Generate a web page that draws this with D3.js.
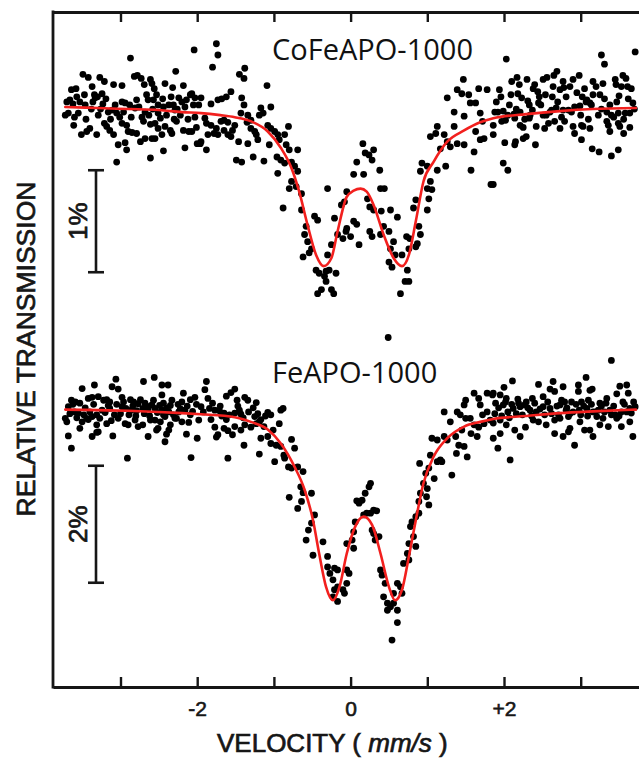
<!DOCTYPE html>
<html><head><meta charset="utf-8">
<script src="https://cdn.jsdelivr.net/npm/d3@7"></script>
<style>body{margin:0;background:#fff} svg{display:block;background:#fff}</style>
</head><body><svg id="c" width="639" height="760"></svg>
<script>
// ---------- data ----------
const velocityTicks = [-3, -2, -1, 0, 1, 2, 3];
const velocityTickLabels = { "-2": "-2", "0": "0", "2": "+2" };
const sampleNames = ["CoFeAPO-1000", "FeAPO-1000"];
const scaleBarLabels = ["1%", "2%"];
const scaleBarSizes = [1, 2]; // percent

// CoFeAPO-1000: [velocity mm/s, transmission change %]
const coFePoints = [
[-2.04,0.56],[-2.87,0.48],[-2.28,0.35],[-3.49,0.32],[-3.42,0.29],[-3.27,0.29],[-3.21,0.25],[-2.82,0.30],[-2.78,0.31],[-2.73,0.28],[-2.69,0.22],[-2.61,0.27],[-2.59,0.23],[-2.56,0.18],[-3.09,0.22],[-2.98,0.21],[-2.42,0.23],[-2.32,0.19],[-2.18,0.21],[-2.09,0.12],[-2.07,0.13],[-3.64,0.17],[-3.58,0.18],[-3.37,0.20],[-3.34,0.12],[-3.24,0.13],[-3.57,0.10],[-3.53,0.05],[-3.46,0.02],[-3.70,0.05],[-3.66,0.07],[-3.33,0.09],[-3.30,0.10],[-2.98,0.05],[-2.94,0.04],[-2.79,0.07],[-2.64,0.07],[-2.57,0.07],[-2.51,0.02],[-2.44,0.00],[-2.37,0.02],[-2.31,0.02],[-2.24,0.09],[-2.20,0.05],[-2.14,0.07],[-2.03,0.09],[-1.98,0.02],[-3.72,-0.08],[-3.68,-0.06],[-3.55,-0.06],[-3.29,-0.08],[-3.16,-0.05],[-3.11,-0.03],[-3.05,-0.06],[-2.81,-0.01],[-2.68,-0.05],[-2.51,-0.06],[-2.29,-0.03],[-2.22,-0.08],[-2.03,-0.10],[-3.61,-0.18],[-3.51,-0.27],[-3.44,-0.24],[-3.40,-0.21],[-3.31,-0.27],[-3.21,-0.16],[-3.18,-0.19],[-3.14,-0.23],[-3.09,-0.27],[-2.98,-0.16],[-2.92,-0.18],[-2.90,-0.24],[-2.85,-0.25],[-2.79,-0.26],[-2.70,-0.14],[-2.61,-0.17],[-2.55,-0.16],[-2.51,-0.21],[-2.46,-0.27],[-2.42,-0.19],[-2.35,-0.23],[-2.33,-0.26],[-2.27,-0.14],[-2.18,-0.23],[-2.11,-0.24],[-2.07,-0.24],[-3.03,-0.37],[-2.94,-0.35],[-2.92,-0.42],[-2.74,-0.34],[-2.68,-0.31],[-2.59,-0.31],[-2.55,-0.31],[-2.44,-0.43],[-2.16,-0.40],[-2.00,-0.36],[-1.96,-0.36],[-3.05,-0.54],[-2.61,-0.50],
[-3.62,0.03],[-3.60,-0.10],[-3.47,0.12],[-3.45,-0.12],[-3.38,-0.02],[-3.36,0.05],[-3.26,-0.02],[-3.23,0.03],[-3.19,0.08],[-3.13,-0.12],[-3.07,0.02],[-3.01,-0.10],[-2.96,-0.05],[-2.88,0.02],[-2.86,-0.10],[-2.76,0.00],[-2.72,-0.10],[-2.66,0.12],[-2.63,-0.08],[-2.58,-0.02],[-2.53,0.12],[-2.48,-0.11],[-2.45,0.08],[-2.40,-0.08],[-2.34,0.10],[-2.30,-0.12],[-2.26,-0.02],[-2.16,0.00],[-2.12,-0.12],[-2.05,0.02],[-2.01,-0.20],
[-1.75,0.62],[-1.73,0.51],[-1.80,0.39],[-1.38,0.38],[-1.45,0.32],[-1.39,0.28],[-1.09,0.21],[-1.56,0.15],[-1.62,0.10],[-1.68,0.08],[-1.73,0.07],[-1.82,0.03],[-1.95,0.09],[-1.42,0.09],[-1.39,0.02],[-1.04,0.00],[-1.17,-0.01],[-1.14,-0.06],[-1.19,-0.08],[-1.43,-0.06],[-1.34,-0.08],[-1.30,-0.13],[-1.35,-0.15],[-1.90,-0.11],[-1.88,-0.16],[-1.82,-0.18],[-1.75,-0.21],[-1.69,-0.14],[-1.65,-0.13],[-1.60,-0.15],[-1.51,-0.18],[-1.54,-0.23],[-1.86,-0.27],[-1.78,-0.26],[-1.73,-0.27],[-1.65,-0.23],[-1.60,-0.27],[-1.56,-0.29],[-1.30,-0.21],[-1.25,-0.24],[-1.23,-0.27],[-1.08,-0.18],[-1.04,-0.21],[-0.99,-0.24],[-0.95,-0.27],[-0.86,-0.27],[-0.81,-0.19],[-1.95,-0.34],[-1.88,-0.42],[-1.46,-0.34],[-1.34,-0.36],[-1.21,-0.32],[-1.06,-0.37],[-0.93,-0.32],[-0.84,-0.37],[-0.80,-0.42],[-0.69,-0.42],[-1.49,-0.52],[-1.42,-0.54],[-1.27,-0.49],[-1.13,-0.53],[-0.96,-0.49],[-0.91,-0.52],[-0.86,-0.55],[-0.77,-0.54],[-0.73,-0.58],[-0.69,-0.63],[-0.95,-0.65],[-0.77,-0.73],[-0.80,-0.80],[-0.71,-0.78],[-0.64,-0.85],[-0.88,-0.99],[-0.64,-1.01],[-0.47,-1.07],[-0.43,-1.11],[-0.58,-1.17],[-0.60,-1.25],[-0.56,-1.32],[-0.51,-1.39],[-0.54,-1.43],[-0.62,-1.47],[-0.30,-0.80],[-0.21,-1.09],[-0.12,-0.96],[-0.08,-0.93],[-0.45,-1.60],[-0.41,-1.63],[-0.32,-1.61],[-0.28,-1.60],[-0.19,-1.63],[-0.34,-1.66],[-0.32,-1.71],[-0.43,-1.83],[-0.38,-1.79],[-0.25,-1.79],[-0.22,-1.83],[-0.30,-1.45],[-0.25,-1.35],[-0.17,-1.25],[-0.10,-1.29],[-0.06,-1.22],
[1.47,0.27],[1.39,0.17],[1.45,0.13],[1.26,0.09],[1.54,0.12],[1.56,0.04],[1.67,0.18],[1.78,0.17],[1.63,0.04],[1.69,-0.06],[1.35,-0.05],[1.48,-0.09],[1.13,-0.19],[1.35,-0.19],[1.04,-0.29],[1.11,-0.26],[1.22,-0.27],[1.26,-0.34],[1.17,-0.41],[1.30,-0.39],[1.39,-0.36],[1.48,-0.37],[1.63,-0.24],[1.72,-0.14],[1.61,-0.44],[1.69,-0.32],[1.74,-0.31],[0.16,-0.36],[0.19,-0.45],[0.24,-0.47],[0.30,-0.42],[0.28,-0.52],[0.08,-0.54],[0.04,-0.66],[0.17,-0.66],[0.38,-0.62],[1.24,-0.58],[1.13,-0.62],[1.04,-0.73],[0.93,-0.55],[1.00,-0.58],[0.91,-0.63],[1.57,-0.62],[1.83,-0.76],[0.39,-0.80],[0.44,-0.80],[-0.05,-0.83],[0.22,-0.90],[0.25,-0.98],[0.30,-1.01],[0.40,-1.02],[0.52,-1.01],[0.61,-1.08],[0.85,-0.91],[0.82,-0.99],[1.00,-0.80],[1.06,-0.81],[1.02,-0.90],[1.00,-1.01],[0.04,-1.12],[-0.05,-1.19],[0.08,-1.15],[0.25,-1.22],[0.28,-1.27],[0.39,-1.25],[0.50,-1.22],[0.43,-1.17],[0.00,-1.27],[0.11,-1.35],[0.56,-1.32],[0.52,-1.39],[0.58,-1.45],[0.67,-1.45],[0.73,-1.27],[0.77,-1.29],[0.89,-1.17],[0.91,-1.25],[0.87,-1.34],[0.85,-1.37],[0.76,-1.39],[0.50,-1.52],[0.54,-1.57],[0.74,-1.60],[0.71,-1.71],[0.76,-1.71],[0.65,-1.83],[0.49,-2.26],
[2.03,0.47],[3.27,0.51],[3.31,0.42],[3.71,0.54],[1.94,0.17],[2.10,0.25],[2.17,0.29],[2.30,0.27],[2.51,0.27],[2.56,0.29],[2.65,0.31],[2.69,0.35],[2.77,0.25],[2.90,0.27],[2.98,0.31],[3.16,0.25],[3.29,0.23],[3.45,0.27],[3.46,0.22],[3.55,0.31],[3.59,0.28],[3.61,0.20],[3.66,0.18],[2.18,0.13],[2.23,0.09],[2.38,0.18],[2.44,0.15],[2.46,0.10],[2.63,0.10],[2.73,0.17],[2.78,0.19],[2.86,0.20],[3.02,0.10],[3.08,0.07],[3.16,0.12],[3.25,0.12],[3.50,0.11],[3.68,0.04],[1.88,-0.05],[1.92,-0.05],[1.99,-0.04],[2.07,0.02],[2.13,-0.07],[2.21,-0.05],[2.33,0.02],[2.34,-0.08],[2.45,0.04],[2.51,-0.08],[2.55,-0.08],[2.62,-0.03],[2.68,-0.01],[2.77,-0.03],[2.84,-0.03],[2.92,0.00],[2.99,0.01],[3.07,0.05],[3.12,0.04],[3.23,-0.08],[3.34,-0.05],[3.40,-0.08],[3.49,-0.06],[3.58,-0.06],[3.64,-0.06],[1.86,-0.18],[1.97,-0.14],[2.02,-0.13],[2.14,-0.11],[2.21,-0.18],[2.25,-0.20],[2.33,-0.11],[2.42,-0.19],[2.53,-0.21],[2.58,-0.16],[2.66,-0.14],[2.73,-0.21],[2.79,-0.14],[2.90,-0.19],[2.92,-0.26],[3.01,-0.18],[3.03,-0.19],[3.12,-0.21],[3.34,-0.14],[3.36,-0.18],[3.49,-0.16],[3.51,-0.19],[3.64,-0.20],[1.86,-0.27],[2.01,-0.35],[2.14,-0.37],[2.15,-0.34],[2.25,-0.31],[2.29,-0.29],[2.41,-0.37],[3.01,-0.32],[3.38,-0.24],[3.56,-0.26],[3.15,-0.41],[3.24,-0.44],[3.40,-0.48],[3.49,-0.42],[1.99,-0.55],[2.05,-0.62],[1.86,-0.76],
[1.90,0.05],[1.96,0.10],[2.05,-0.08],[2.09,0.12],[2.16,-0.02],[2.20,0.22],[2.27,-0.12],[2.31,0.06],[2.37,-0.03],[2.40,0.22],[2.48,0.02],[2.54,0.12],[2.60,-0.05],[2.64,0.20],[2.70,0.05],[2.75,-0.10],[2.81,0.10],[2.88,-0.05],[2.95,0.14],[3.00,-0.08],[3.05,0.18],[3.10,-0.12],[3.14,0.02],[3.20,0.20],[3.27,-0.02],[3.31,0.08],[3.38,0.02],[3.43,-0.10],[3.47,0.05],[3.53,0.20],[3.56,-0.12],[3.62,0.08],[3.70,-0.02]
];
const coFeFit = [
[-3.72,0.00],[-3.3,-0.01],[-2.9,-0.02],[-2.5,-0.03],[-2.2,-0.05],[-1.95,-0.06],[-1.7,-0.08],[-1.51,-0.10],[-1.30,-0.14],[-1.08,-0.24],[-0.91,-0.40],[-0.77,-0.60],[-0.67,-0.83],[-0.56,-1.16],[-0.45,-1.45],[-0.35,-1.56],[-0.25,-1.48],[-0.17,-1.22],[-0.05,-0.88],[0.04,-0.82],[0.13,-0.80],[0.21,-0.83],[0.30,-0.96],[0.43,-1.25],[0.56,-1.48],[0.67,-1.56],[0.76,-1.45],[0.85,-1.12],[0.95,-0.73],[1.08,-0.54],[1.26,-0.34],[1.48,-0.23],[1.69,-0.15],[1.86,-0.11],[2.29,-0.07],[2.73,-0.04],[3.16,-0.02],[3.72,-0.01]
];

// FeAPO-1000
const fePoints = [
[-3.06,0.51],[-2.70,0.47],[-2.56,0.54],[-3.50,0.35],[-3.34,0.41],[-3.11,0.38],[-3.03,0.34],[-2.46,0.41],[-2.38,0.41],[-2.18,0.27],[-3.64,0.15],[-3.59,0.12],[-3.53,0.10],[-3.42,0.18],[-3.37,0.20],[-3.29,0.21],[-3.22,0.15],[-3.18,0.16],[-3.14,0.12],[-2.98,0.20],[-2.87,0.16],[-2.83,0.12],[-2.77,0.09],[-2.68,0.10],[-2.59,0.07],[-2.46,0.24],[-2.44,0.10],[-2.33,0.15],[-2.20,0.12],[-2.09,0.16],[-2.03,0.20],[-3.68,0.04],[-3.60,-0.05],[-3.55,-0.07],[-3.48,-0.10],[-3.44,-0.16],[-3.37,-0.13],[-3.31,-0.10],[-3.24,-0.02],[-3.14,0.01],[-3.08,-0.10],[-2.98,0.04],[-2.93,0.01],[-2.86,-0.02],[-2.79,-0.03],[-2.71,0.01],[-2.64,0.01],[-2.55,0.01],[-2.46,-0.02],[-2.37,-0.05],[-2.31,-0.10],[-2.24,-0.05],[-2.16,-0.02],[-2.09,-0.10],[-3.72,-0.16],[-3.70,-0.22],[-3.50,-0.22],[-3.42,-0.18],[-3.31,-0.27],[-3.18,-0.25],[-3.03,-0.16],[-2.94,-0.25],[-2.90,-0.27],[-2.81,-0.19],[-2.77,-0.30],[-2.71,-0.27],[-2.61,-0.19],[-2.55,-0.19],[-2.48,-0.22],[-2.42,-0.13],[-2.35,-0.27],[-2.27,-0.16],[-2.20,-0.22],[-2.11,-0.23],[-1.98,-0.19],[-3.68,-0.46],[-3.53,-0.33],[-3.37,-0.47],[-3.31,-0.40],[-3.29,-0.39],[-3.10,-0.46],[-2.64,-0.47],[-2.53,-0.36],[-2.51,-0.33],[-2.40,-0.43],[-2.37,-0.36],[-2.14,-0.43],[-2.00,-0.50],[-3.64,-0.67],[-2.42,-0.56],[-2.91,-0.84],[-2.08,-0.83],
[-3.66,-0.08],[-3.62,0.08],[-3.57,-0.15],[-3.46,0.02],[-3.40,-0.05],[-3.35,0.08],[-3.27,-0.16],[-3.20,-0.06],[-3.16,0.06],[-3.12,-0.20],[-3.05,0.08],[-3.00,-0.08],[-2.96,0.12],[-2.89,-0.10],[-2.84,0.05],[-2.80,-0.12],[-2.74,0.16],[-2.69,-0.08],[-2.66,0.05],[-2.62,-0.12],[-2.57,0.15],[-2.52,-0.06],[-2.49,0.06],[-2.44,-0.10],[-2.40,0.02],[-2.35,0.06],[-2.29,-0.16],[-2.25,0.08],[-2.22,0.00],[-2.13,0.05],[-2.06,-0.04],[-2.01,0.08],
[-1.88,0.47],[-1.90,0.33],[-1.86,0.18],[-1.51,0.34],[-1.56,0.28],[-1.62,0.22],[-1.38,0.20],[-1.34,0.15],[-1.23,0.11],[-1.48,0.15],[-1.95,0.04],[-1.84,0.01],[-1.77,-0.02],[-1.71,-0.03],[-1.68,-0.12],[-1.65,-0.07],[-1.58,-0.10],[-1.51,-0.07],[-1.45,-0.02],[-1.43,-0.09],[-1.25,-0.13],[-1.17,-0.18],[-1.08,-0.06],[-1.04,-0.10],[-0.91,-0.02],[-0.88,0.01],[-1.82,-0.18],[-1.77,-0.31],[-1.73,-0.44],[-1.75,-0.48],[-1.65,-0.33],[-1.60,-0.37],[-1.51,-0.30],[-1.54,-0.44],[-1.43,-0.36],[-1.38,-0.27],[-1.30,-0.31],[-1.23,-0.25],[-1.19,-0.22],[-0.93,-0.25],[-1.01,-0.36],[-1.17,-0.50],[-1.08,-0.47],[-1.04,-0.59],[-0.97,-0.62],[-0.91,-0.64],[-0.77,-0.52],[-0.73,-0.67],[-1.19,-0.77],[-1.39,-0.62],[-1.60,-0.84],[-0.99,-0.90],[-0.87,-0.79],[-0.86,-0.84],[-0.81,-0.99],[-0.77,-1.01],[-0.69,-0.99],[-0.62,-1.07],[-0.65,-1.33],[-0.62,-1.43],[-0.51,-1.44],[-0.80,-1.51],[-0.69,-1.70],[-0.64,-1.58],[-0.47,-1.81],[-0.51,-1.95],[-0.55,-2.07],[-0.58,-2.24],[-0.49,-2.50],[-0.36,-2.27],[-0.30,-2.52],[-0.30,-2.70],[-0.21,-2.72],[-0.17,-2.75],[-0.27,-2.81],[-0.23,-2.92],[-0.17,-3.04],[-0.21,-3.09],[-0.23,-3.21],[-0.17,-3.29],[-0.10,-3.09],[-0.08,-3.15],
[-1.92,-0.05],[-1.80,0.10],[-1.70,0.05],[-1.62,-0.18],[-1.47,0.05],[-1.40,-0.15],[-1.33,-0.05],[-1.27,0.02],[-1.21,-0.08],[-1.13,-0.30],[-1.11,-0.12],
[1.61,0.27],[1.50,0.15],[1.48,0.07],[1.67,0.18],[1.69,0.07],[1.78,0.27],[1.85,0.24],[1.78,-0.05],[1.72,-0.10],[1.22,-0.05],[1.30,-0.22],[1.39,-0.05],[1.43,-0.10],[1.50,-0.16],[1.56,-0.16],[1.61,-0.27],[1.67,-0.31],[1.74,-0.25],[1.82,-0.19],[1.57,-0.42],[1.65,-0.47],[1.45,-0.36],[1.06,-0.50],[1.13,-0.53],[1.22,-0.47],[1.26,-0.53],[1.37,-0.47],[1.41,-0.62],[1.48,-0.64],[1.38,-0.76],[1.52,-0.82],[1.17,-0.87],[1.04,-0.79],[1.13,-0.90],[1.19,-0.90],[0.90,-0.93],[0.98,-1.10],[1.02,-1.01],[1.09,-1.19],[1.32,-1.13],[0.95,-1.27],[1.00,-1.36],[0.91,-1.44],[0.99,-1.50],[1.02,-1.64],[0.89,-1.58],[0.26,-1.27],[0.24,-1.33],[0.19,-1.44],[0.15,-1.56],[0.11,-1.61],[0.08,-1.57],[0.30,-1.73],[0.34,-1.74],[0.26,-1.78],[0.21,-1.78],[0.17,-1.81],[0.06,-1.93],[0.04,-2.10],[0.02,-2.24],[-0.05,-2.30],[0.04,-2.38],[0.28,-2.07],[0.30,-2.13],[0.32,-2.24],[0.37,-2.18],[0.89,-1.78],[0.85,-1.84],[0.80,-1.93],[0.78,-2.01],[0.82,-2.18],[0.85,-2.35],[0.76,-2.30],[0.74,-2.47],[0.76,-2.58],[0.69,-2.64],[-0.05,-2.75],[-0.02,-2.81],[-0.05,-2.98],[0.39,-2.75],[0.41,-2.84],[0.45,-2.98],[0.61,-2.98],[0.65,-3.04],[0.67,-3.15],[0.56,-3.15],[0.43,-3.21],[0.48,-3.32],[0.52,-3.38],[0.48,-3.44],[0.56,-3.32],[0.61,-3.44],[0.61,-3.65],[0.54,-3.95],
[3.40,0.83],[2.11,0.48],[3.07,0.54],[2.00,0.37],[2.45,0.42],[2.64,0.47],[2.97,0.41],[3.15,0.34],[3.51,0.39],[3.60,0.41],[1.86,0.27],[1.95,0.24],[2.03,0.18],[2.18,0.17],[2.29,0.12],[2.37,0.18],[2.51,0.21],[2.60,0.34],[2.66,0.30],[2.77,0.38],[2.79,0.12],[2.88,0.12],[2.97,0.30],[3.01,0.12],[3.10,0.15],[3.12,0.32],[3.25,0.10],[3.34,0.18],[3.47,0.26],[3.55,0.12],[3.62,0.27],[1.89,0.10],[1.99,0.07],[2.05,-0.05],[2.12,0.01],[2.21,0.04],[2.27,0.07],[2.34,-0.02],[2.42,-0.05],[2.51,0.04],[2.60,0.01],[2.73,0.07],[2.81,-0.02],[2.90,-0.05],[2.98,-0.02],[3.08,0.01],[3.16,-0.05],[3.23,-0.02],[3.31,-0.05],[3.38,-0.02],[3.45,-0.10],[3.53,-0.05],[3.64,0.01],[3.71,0.04],[1.86,-0.24],[1.95,-0.19],[2.03,-0.27],[2.14,-0.36],[2.21,-0.47],[2.28,-0.31],[2.38,-0.19],[2.45,-0.22],[2.55,-0.27],[2.66,-0.19],[2.73,-0.16],[2.84,-0.13],[2.86,-0.33],[2.99,-0.22],[3.05,-0.36],[3.12,-0.36],[3.21,-0.13],[3.25,-0.27],[3.36,-0.30],[3.47,-0.16],[3.53,-0.30],[3.64,-0.22],[3.66,-0.07],[1.86,-0.50],[1.95,-0.42],[1.92,-0.67],[2.66,-0.42],[2.77,-0.47],[2.84,-0.39],[2.92,-0.62],[3.16,-0.47],[3.68,-0.47],[2.08,-0.87],
[1.88,-0.08],[1.93,0.02],[1.97,-0.12],[2.02,0.12],[2.07,-0.15],[2.10,0.08],[2.16,-0.08],[2.19,0.10],[2.24,-0.10],[2.31,0.02],[2.36,-0.12],[2.40,0.10],[2.47,0.00],[2.53,-0.10],[2.57,0.12],[2.62,-0.08],[2.69,0.05],[2.71,-0.10],[2.75,0.15],[2.82,0.02],[2.86,-0.08],[2.94,0.08],[3.00,-0.10],[3.04,0.05],[3.09,-0.12],[3.14,0.08],[3.19,-0.05],[3.27,0.05],[3.29,-0.16],[3.33,0.10],[3.40,-0.10],[3.43,0.05],[3.50,-0.12],[3.57,0.08],[3.60,-0.05],[3.69,0.12]
];
const feFit = [
[-3.72,-0.01],[-3.3,-0.02],[-2.9,-0.03],[-2.5,-0.05],[-2.2,-0.07],[-1.95,-0.09],[-1.51,-0.14],[-1.30,-0.22],[-1.08,-0.35],[-0.91,-0.59],[-0.73,-0.99],[-0.60,-1.38],[-0.49,-1.90],[-0.41,-2.47],[-0.32,-3.04],[-0.23,-3.27],[-0.145,-3.04],[-0.05,-2.47],[0.06,-2.01],[0.17,-1.84],[0.28,-1.98],[0.39,-2.47],[0.50,-3.04],[0.58,-3.27],[0.67,-3.09],[0.76,-2.52],[0.85,-1.90],[0.95,-1.27],[1.08,-0.82],[1.26,-0.50],[1.48,-0.30],[1.69,-0.22],[1.86,-0.17],[2.29,-0.12],[2.73,-0.07],[3.16,-0.04],[3.72,-0.01]
];

// ---------- drawing ----------
const frame = { left: 53, top: 12, bottom: 687, right: 639 };
const svg = d3.select("#c");
const ink = "#161616";
const sans = "'Liberation Sans', Arial, Helvetica, sans-serif";

const x = d3.scaleLinear().domain([-3.88, 3.76]).range([frame.left, frame.right]);
const yTop = d3.scaleLinear().domain([0, -1]).range([107, 209]);
const yBot = d3.scaleLinear().domain([0, -1]).range([409, 467.5]);

const panels = [
  { pts: coFePoints, fit: coFeFit, y: yTop, name: sampleNames[0], nameY: 60, bar: -0.62, barLabel: scaleBarLabels[0], size: scaleBarSizes[0] },
  { pts: fePoints, fit: feFit, y: yBot, name: sampleNames[1], nameY: 383, bar: -0.97, barLabel: scaleBarLabels[1], size: scaleBarSizes[1] }
];

function heavy(sel, w) { return sel.attr("stroke", ink).attr("stroke-width", w).attr("paint-order", "stroke"); }

panels.forEach(p => {
  const g = svg.append("g");
  g.selectAll("circle").data(p.pts).join("circle")
    .attr("cx", d => x(d[0])).attr("cy", d => p.y(d[1]))
    .attr("r", 3.4).attr("fill", "#000");
  g.append("path").datum(p.fit)
    .attr("d", d3.line().x(d => x(d[0])).y(d => p.y(d[1])).curve(d3.curveMonotoneX))
    .attr("fill", "none").attr("stroke", "#f2201e").attr("stroke-width", 2.6)
    .attr("stroke-linejoin", "round").attr("stroke-linecap", "round");

  svg.append("text").attr("x", 272).attr("y", p.nameY)
    .attr("font-family", "'Open Sans', 'Noto Sans', sans-serif").attr("font-size", 29)
    .attr("fill", "#111").text(p.name);

  const y1 = p.y(p.bar), y2 = p.y(p.bar - p.size);
  const bx = 96, cap = 8;
  const sb = svg.append("g").attr("stroke", ink).attr("stroke-width", 2.6);
  sb.append("line").attr("x1", bx).attr("x2", bx).attr("y1", y1).attr("y2", y2);
  sb.append("line").attr("x1", bx - cap).attr("x2", bx + cap).attr("y1", y1).attr("y2", y1);
  sb.append("line").attr("x1", bx - cap).attr("x2", bx + cap).attr("y1", y2).attr("y2", y2);
  heavy(svg.append("text").attr("transform", `translate(87,${(y1 + y2) / 2}) rotate(-90)`)
    .attr("text-anchor", "middle").attr("font-family", sans).attr("font-size", 26)
    .attr("fill", ink).text(p.barLabel), 0.7);
});

// axes
const fmt = d => velocityTickLabels[String(d)] || "";
const gb = svg.append("g").attr("transform", `translate(0,${frame.bottom})`)
  .call(d3.axisBottom(x).tickValues(velocityTicks).tickSizeInner(-10).tickSizeOuter(0).tickPadding(14).tickFormat(fmt));
const gt = svg.append("g").attr("transform", `translate(0,${frame.top})`)
  .call(d3.axisTop(x).tickValues(velocityTicks).tickSizeInner(-10).tickSizeOuter(0).tickFormat(""));
[gb, gt].forEach(g => {
  g.select(".domain").attr("stroke", ink).attr("stroke-width", 2.8);
  g.selectAll(".tick line").attr("stroke", ink).attr("stroke-width", 2.4);
});
heavy(gb.selectAll(".tick text").attr("font-family", sans).attr("font-size", 21).attr("fill", ink), 0.6);
svg.append("line").attr("x1", frame.left).attr("x2", frame.left)
  .attr("y1", frame.top).attr("y2", frame.bottom)
  .attr("stroke", ink).attr("stroke-width", 2.8).attr("stroke-linecap", "square");

// axis titles
const xt = heavy(svg.append("text").attr("x", 217).attr("y", 752)
  .attr("font-family", sans).attr("font-size", 26).attr("fill", ink)
  .style("white-space", "pre"), 0.7);
xt.append("tspan").text("VELOCITY ( ");
xt.append("tspan").attr("font-style", "italic").text("mm/s");
xt.append("tspan").text(" )");

heavy(svg.append("text").attr("transform", "translate(35,349) rotate(-90)")
  .attr("text-anchor", "middle").attr("font-family", sans).attr("font-size", 26.5)
  .attr("fill", ink).text("RELATIVE TRANSMISSION"), 0.7);
</script></body></html>
